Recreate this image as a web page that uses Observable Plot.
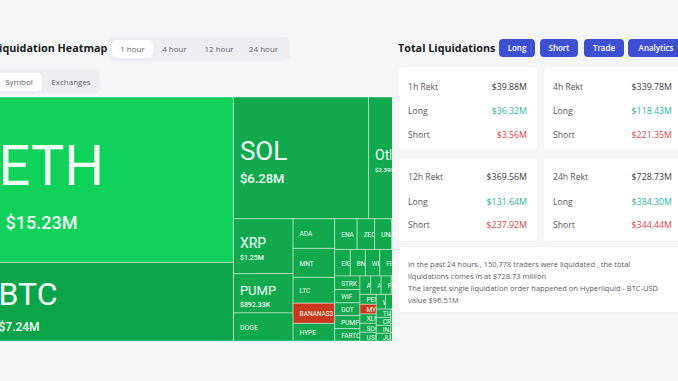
<!DOCTYPE html>
<html><head><meta charset="utf-8">
<script src="https://cdn.jsdelivr.net/npm/d3@7"></script>
<script src="https://cdn.jsdelivr.net/npm/@observablehq/plot@0.6"></script>
<style>
html,body{margin:0;padding:0;}
body{width:678px;height:381px;overflow:hidden;position:relative;background:#f5f7f6;font-family:"Open Sans",sans-serif;}
.abs{position:absolute;white-space:nowrap;}
.h{font-size:10.8px;font-weight:700;color:#1b1c1f;line-height:20px;}
.tabs{position:absolute;background:#eceef1;border-radius:6px;}
.tab{position:absolute;font-size:8px;color:#60656c;line-height:18px;text-align:center;border-radius:5px;white-space:nowrap;}
.tab.on{background:#fff;}
#tm{position:absolute;left:-8px;top:97px;width:400px;height:244px;overflow:hidden;}
.btn{position:absolute;top:39px;height:18px;line-height:18px;background:#3e4fd1;color:#fff;font-size:8px;font-weight:600;text-align:center;border-radius:4px;}
.card{position:absolute;background:#fff;border-radius:4px;box-shadow:0 0 2px rgba(0,0,0,0.05);}
.row{position:absolute;left:9px;right:10px;display:flex;justify-content:space-between;font-size:8.6px;color:#555;line-height:12px;}
.row span:last-child{font-size:8.8px;}
.dark{color:#3a3a3a;}
.long{color:#2bb3a4;}
.short{color:#e0434c;}
.note{position:absolute;left:9px;font-size:7.5px;color:#5d5d5d;line-height:11.5px;white-space:nowrap;}
</style></head>
<body>
<div class="abs h" style="left:-7px;top:38px;">Liquidation Heatmap</div>
<div class="tabs" style="left:108px;top:37px;width:182px;height:24px;"></div>
<div class="tab on" style="left:112px;top:40px;width:41px;">1 hour</div>
<div class="tab" style="left:154px;top:40px;width:41px;">4 hour</div>
<div class="tab" style="left:198px;top:40px;width:42px;">12 hour</div>
<div class="tab" style="left:242px;top:40px;width:43px;">24 hour</div>
<div class="tabs" style="left:-10px;top:70px;width:110px;height:24px;"></div>
<div class="tab on" style="left:-4px;top:73px;width:46px;">Symbol</div>
<div class="tab" style="left:48px;top:73px;width:46px;">Exchanges</div>

<div id="tm"></div>

<div class="abs h" style="left:398px;top:38px;">Total Liquidations</div>
<div class="btn" style="left:499px;width:36px;">Long</div>
<div class="btn" style="left:540px;width:38px;">Short</div>
<div class="btn" style="left:584px;width:40px;">Trade</div>
<div class="btn" style="left:628px;width:56px;">Analytics</div>

<div class="card" style="left:399px;top:67px;width:138px;height:83px;">
 <div class="row" style="top:14px;"><span>1h Rekt</span><span class="dark">$39.88M</span></div>
 <div class="row" style="top:38px;"><span>Long</span><span class="long">$36.32M</span></div>
 <div class="row" style="top:62px;"><span>Short</span><span class="short">$3.56M</span></div>
</div>
<div class="card" style="left:544px;top:67px;width:140px;height:83px;">
 <div class="row" style="top:14px;right:12px;"><span>4h Rekt</span><span class="dark">$339.78M</span></div>
 <div class="row" style="top:38px;right:12px;"><span>Long</span><span class="long">$118.43M</span></div>
 <div class="row" style="top:62px;right:12px;"><span>Short</span><span class="short">$221.35M</span></div>
</div>
<div class="card" style="left:399px;top:158px;width:138px;height:83px;">
 <div class="row" style="top:13px;"><span>12h Rekt</span><span class="dark">$369.56M</span></div>
 <div class="row" style="top:38px;"><span>Long</span><span class="long">$131.64M</span></div>
 <div class="row" style="top:61px;"><span>Short</span><span class="short">$237.92M</span></div>
</div>
<div class="card" style="left:544px;top:158px;width:140px;height:83px;">
 <div class="row" style="top:13px;right:12px;"><span>24h Rekt</span><span class="dark">$728.73M</span></div>
 <div class="row" style="top:38px;right:12px;"><span>Long</span><span class="long">$384.30M</span></div>
 <div class="row" style="top:61px;right:12px;"><span>Short</span><span class="short">$344.44M</span></div>
</div>
<div class="card" style="left:399px;top:247px;width:285px;height:65px;">
 <div class="note" style="top:12px;">In the past 24 hours , 150,778 traders were liquidated , the total</div>
 <div class="note" style="top:23.5px;">liquidations comes in at $728.73 million</div>
 <div class="note" style="top:36px;">The largest single liquidation order happened on Hyperliquid - BTC-USD</div>
 <div class="note" style="top:47.5px;">value $96.51M</div>
</div>

<script>
// ---- data (1 hour liquidations by symbol, $M) ----
const coins = ["ETH","BTC","SOL","Other","XRP","PUMP","DOGE","ADA","MNT","LTC","BANANAS31","HYPE",
  "ENA","ZEC","UNI","LINK","AVAX","EIGEN","BNB","WLD","FET","TAO","SEI",
  "STRK","WIF","DOT","PUMPBTC","FARTCOIN","ASTER","AVNT","POL","SUI","ONDO","TRUMP",
  "PENGU","MYX","XLM","SOON","USELESS","WLFI","ARB","OP","APT","NEAR","TIA","CRV","INJ","JUP","AAVE","ORDI",
  "1000PEPE","BONK","SHIB","TON","ENS","RENDER","KAITO"];
const liqM = [15.23,7.24,6.28,2.39,1.25,0.89233,0.64,0.47,0.46,0.41,0.32,0.28,
  0.262,0.205,0.2,0.17,0.16,0.158,0.152,0.146,0.14,0.136,0.132,
  0.13,0.128,0.125,0.123,0.12,0.075,0.073,0.071,0.069,0.067,0.065,
  0.062,0.06,0.058,0.056,0.054,0.052,0.05,0.049,0.048,0.047,0.046,0.045,0.044,0.043,0.042,0.041,
  0.04,0.04,0.039,0.039,0.038,0.038,0.037];

// ---- styles ----
const TW = 428, TH = 244, VISIBLE = 400;
const cellColor = {ETH:"#10d25b", BTC:"#0ca44a", BANANAS31:"#c9381f", MYX:"#c9381f"};
const baseGreen = "#12a94e";
const nameSize = v => v>=10?56 : v>=7?32 : v>=5?26 : v>=1?14 : v>=0.8?13 : v>=0.6?7 : 6.5;
const valSize  = v => v>=10?18 : v>=7?12 : v>=5?13 : v>=2?6 : 7;
const fmt = v => v >= 1 ? "$" + v.toFixed(2) + "M" : "$" + (v*1000).toFixed(2) + "K";

const root = d3.hierarchy({children: coins.map((name, i) => ({name, value: liqM[i]}))})
  .sum(d => d.value).sort((a, b) => b.value - a.value);
d3.treemap().tile(d3.treemapSquarify).size([TW, TH])(root);
const cells = root.leaves().map((l, i) => ({i, name: l.data.name, value: l.data.value, x0: l.x0, x1: l.x1, y0: l.y0, y1: l.y1}));

// label anchors (only for cells inside the visible window); long names cut to the cell width
const names = cells.filter(c => c.x0 < VISIBLE - 2).map(c => {
  const ns = nameSize(c.value), cy = (c.y0 + c.y1) / 2;
  const showV = c.value >= 0.7;
  const vs = valSize(c.value);
  const capN = 0.71*ns, capV = 0.71*vs, gap = showV ? 0.56*ns : 0;
  const block = capN + (showV ? gap + capV : 0);
  const off = showV ? 0.08*block + 0.5 : 0;
  const room = Math.min(c.x1, VISIBLE) - c.x0 - 6;
  const nChars = Math.max(1, Math.ceil(room / (0.62*ns)));
  return {...c, ns, vs, showV,
    tx: c.x0 + 6, ty: cy - block/2 + capN/2 + off + 0.04*ns,
    vx: c.x0 + 6 + (ns > 40 ? 7 : 0), vy: cy + block/2 - capV/2 + off + 0.04*vs,
    label: c.name.slice(0, nChars), vlabel: fmt(c.value)};
});
const vals = names.filter(d => d.showV);

const chart = Plot.plot({
  width: TW, height: TH, margin: 0,
  x: {domain: [0, TW], range: [0, TW], axis: null},
  y: {domain: [0, TH], range: [0, TH], axis: null},
  style: {background: "none", maxWidth: "none", overflow: "hidden"},
  marks: [
    Plot.rect(cells, {x1: "x0", x2: "x1", y1: "y0", y2: "y1",
      fill: d => cellColor[d.name] || baseGreen, stroke: "#ffffff", strokeOpacity: 0.42, strokeWidth: 1}),
    Plot.text(names, {x: "tx", y: "ty", text: "label", fontSize: "ns", textAnchor: "start",
      fill: "#effff4", fontFamily: "Roboto", fontWeight: 400, className: "tm-name"}),
    Plot.text(vals, {x: "vx", y: "vy", text: "vlabel", fontSize: "vs", textAnchor: "start",
      fill: "#effff4", fontFamily: "Roboto", fontWeight: 500, className: "tm-val"})
  ]
});
document.getElementById("tm").appendChild(chart);

// clip each label to its own cell
const NS = "http://www.w3.org/2000/svg";
const xs = chart.scale("x"), ys = chart.scale("y");
const defs = document.createElementNS(NS, "defs");
chart.insertBefore(defs, chart.firstChild);
cells.forEach(c => {
  const cp = document.createElementNS(NS, "clipPath");
  cp.setAttribute("id", "cellclip" + c.i);
  const r = document.createElementNS(NS, "rect");
  const X0 = xs.apply(c.x0), X1 = Math.min(xs.apply(c.x1), VISIBLE), Y0 = ys.apply(c.y0), Y1 = ys.apply(c.y1);
  r.setAttribute("x", X0 + 1); r.setAttribute("y", Y0 + 0.5);
  r.setAttribute("width", Math.max(0, X1 - X0 - 2)); r.setAttribute("height", Math.max(0, Y1 - Y0 - 1));
  cp.appendChild(r); defs.appendChild(cp);
});
function clipTexts(sel, data) {
  chart.querySelectorAll(sel + " text").forEach((t, k) => {
    const g = document.createElementNS(NS, "g");
    g.setAttribute("clip-path", `url(#cellclip${data[k].i})`);
    t.parentNode.insertBefore(g, t); g.appendChild(t);
  });
}
clipTexts(".tm-name", names);
clipTexts(".tm-val", vals);
</script>
</body></html>
